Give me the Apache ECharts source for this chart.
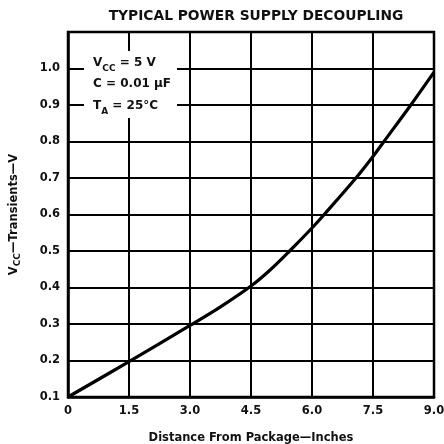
<!DOCTYPE html>
<html>
<head>
<meta charset="utf-8">
<script src="https://cdn.jsdelivr.net/npm/echarts@6/dist/echarts.min.js"></script>
<style>
  html, body { margin: 0; padding: 0; background: #fff; }
  #chart { width: 444px; height: 444px; }
</style>
</head>
<body>
<div id="chart"></div>
<script>
// Supply transient vs. distance of the decoupling capacitor from the package
var distanceInches = [0, 1.5, 3.0, 3.75, 4.5, 4.97, 5.45, 6.0, 6.3, 7.08, 7.5, 7.77, 8.43, 9.0];
var transientVolts = [0.10, 0.197, 0.296, 0.347, 0.404, 0.448, 0.50, 0.563, 0.60, 0.70, 0.759, 0.80, 0.90, 0.99];

var xTickValues = [0, 1.5, 3.0, 4.5, 6.0, 7.5, 9.0];
var yTickValues = [0.1, 0.2, 0.3, 0.4, 0.5, 0.6, 0.7, 0.8, 0.9, 1.0];

var conditionLines = [
  '{b|V}{s|CC}{b| = 5 V}',
  '{b|C = 0.01 \u03bcF}',
  '{b|T}{s|A}{b| = 25\u00b0C}'
];

var FONT = '"DejaVu Sans", Arial, sans-serif';

var points = distanceInches.map(function (x, i) { return [x, transientVolts[i]]; });

var chart = echarts.init(document.getElementById('chart'), null, { renderer: 'canvas' });

function isTick(list, v) {
  return list.some(function (t) { return Math.abs(t - v) < 1e-6; });
}

chart.setOption({
  backgroundColor: '#ffffff',
  animation: false,
  title: {
    text: 'TYPICAL POWER SUPPLY DECOUPLING',
    left: 251,
    textAlign: 'center',
    top: 4,
    textStyle: { fontFamily: FONT, fontWeight: 'bold', fontSize: 13.8, color: '#111' }
  },
  grid: { left: 68, right: 10, top: 32, bottom: 47, show: false, containLabel: false, outerBoundsMode: 'none' },
  xAxis: {
    type: 'value',
    min: 0,
    max: 9,
    interval: 1.5,
    name: 'Distance From Package\u2014Inches',
    nameLocation: 'middle',
    nameGap: 35,
    nameTextStyle: { fontFamily: FONT, fontWeight: 'bold', fontSize: 11.5, color: '#111' },
    axisLine: { show: true, lineStyle: { color: '#000', width: 2.5 } },
    axisTick: { show: false },
    axisLabel: {
      margin: 8,
      fontFamily: FONT, fontWeight: 'bold', fontSize: 11.5, color: '#111',
      formatter: function (v) {
        if (!isTick(xTickValues, v)) return '';
        return v === 0 ? '0' : v.toFixed(1);
      }
    },
    splitLine: { show: true, lineStyle: { color: '#000', width: 2 } }
  },
  yAxis: {
    type: 'value',
    min: 0.1,
    max: 1.1,
    interval: 0.1,
    name: '{b|V}{s|CC}{b|\u2014Transients\u2014V}',
    nameLocation: 'middle',
    nameRotate: 90,
    nameGap: 46,
    nameTextStyle: {
      rich: {
        b: { fontFamily: FONT, fontWeight: 'bold', fontSize: 11.5, color: '#111', lineHeight: 16 },
        s: { fontFamily: FONT, fontWeight: 'bold', fontSize: 9, color: '#111', lineHeight: 9, verticalAlign: 'bottom' }
      }
    },
    axisLine: { show: true, lineStyle: { color: '#000', width: 2.5 } },
    axisTick: { show: false },
    axisLabel: {
      margin: 8,
      fontFamily: FONT, fontWeight: 'bold', fontSize: 11.5, color: '#111',
      formatter: function (v) {
        return isTick(yTickValues, v) ? v.toFixed(1) : '';
      }
    },
    splitLine: { show: true, lineStyle: { color: '#000', width: 2 } }
  },
  graphic: [
    {
      type: 'rect',
      shape: { x: 68, y: 32, width: 366, height: 365 },
      style: { fill: 'none', stroke: '#000', lineWidth: 2.5 },
      z: 50, silent: true
    },
    {
      type: 'rect',
      shape: { x: 84, y: 51, width: 93, height: 67 },
      style: { fill: '#fff' },
      z: 60, silent: true
    },
    {
      type: 'text',
      x: 93, y: 52,
      style: {
        text: conditionLines.join('\n'),
        rich: {
          b: { fontFamily: FONT, fontWeight: 'bold', fontSize: 12, fill: '#111', lineHeight: 21.5 },
          s: { fontFamily: FONT, fontWeight: 'bold', fontSize: 9, fill: '#111', lineHeight: 12, verticalAlign: 'bottom' }
        }
      },
      z: 70, silent: true
    }
  ],
  series: [{
    type: 'line',
    data: points,
    smooth: 0.35,
    showSymbol: false,
    lineStyle: { color: '#000', width: 3.2 },
    z: 40
  }]
});
</script>
</body>
</html>
